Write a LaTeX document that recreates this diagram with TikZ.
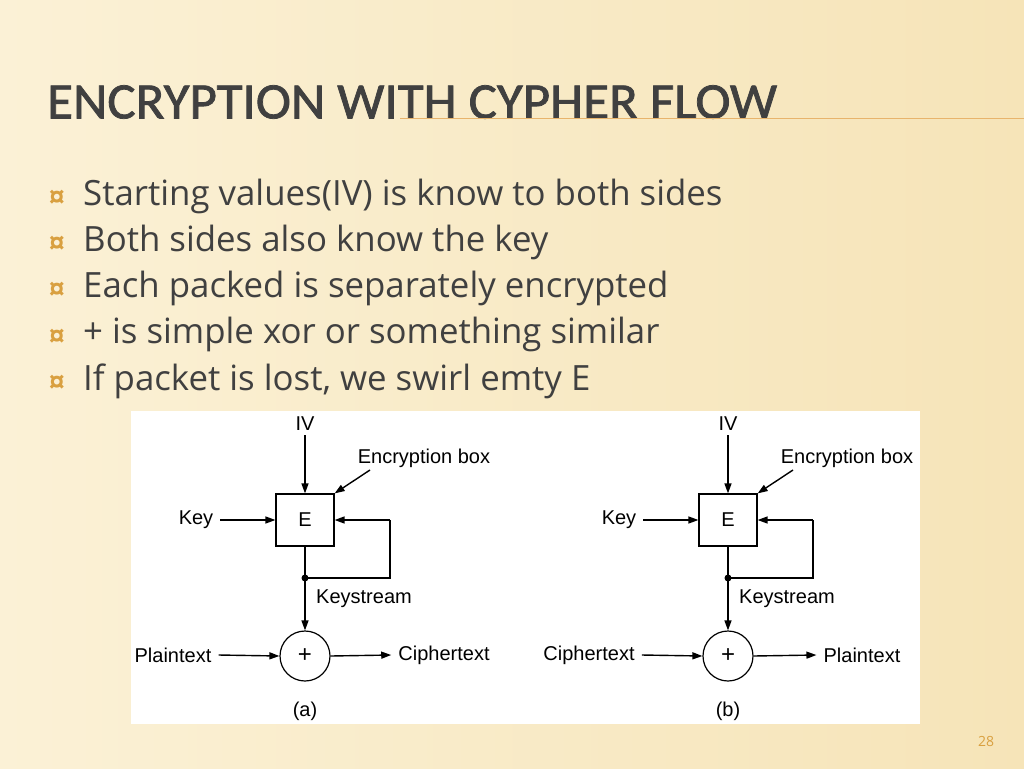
\documentclass[tikz,border=0pt]{standalone}
\usepackage{fontspec}
\setmainfont{Open Sans}
\newfontfamily\titlefont{Carlito}
\newfontfamily\arialf{Liberation Sans}
\usetikzlibrary{arrows.meta}
\definecolor{bgA}{HTML}{FBF1D6}
\definecolor{bgB}{HTML}{F6E4B8}
\definecolor{titlec}{HTML}{404040}
\definecolor{linec}{HTML}{E8B46C}
\definecolor{bulc}{HTML}{D9A040}
\begin{document}
\begin{tikzpicture}[x=1pt,y=-1pt,
  lbl/.style={font=\arialf\fontsize{20}{22}\selectfont,inner sep=0pt},
  ar/.style={-{Triangle[length=10pt,width=7pt]},line width=1.4pt},
  ln/.style={line width=1.4pt},
  bx/.style={draw,line width=1.2pt,minimum width=58pt,minimum height=52pt,inner sep=0pt,font=\arialf\fontsize{20}{22}\selectfont},
  xo/.style={draw,circle,line width=1.2pt,minimum size=50pt,inner sep=0pt,font=\arialf\fontsize{24}{26}\selectfont},
  bul/.style={anchor=west,font=\fontsize{34.8}{36}\selectfont,text=titlec,inner sep=0pt}]
\useasboundingbox (0,0) rectangle (1024,768);
\shade[left color=bgA,right color=bgB] (0,0) rectangle (1024,768);
\node[anchor=west,inner sep=0pt,text=titlec,font=\titlefont\fontsize{51}{56}\selectfont] (title) at (47,102) {\addfontfeatures{FakeBold=1.5,FakeStretch=1.04}ENCRYPTION WITH CYPHER FLOW};
\draw[linec,line width=1pt] (400,118) -- (1024,118);
\foreach \t [count=\i] in {Starting values(IV) is know to both sides,Both sides also know the key,Each packed is separately encrypted,+ is simple xor or something similar,If packet is lost{,} we swirl emty E}{
  \node[bul] (b\i) at (83,{196+46.3*(\i-1)}) {\t};
  \node[text=bulc,font=\arialf\fontsize{28}{28}\selectfont\bfseries,inner sep=0pt] (m\i) at (57,{198+46.3*(\i-1)}) {¤};
}
\fill[white] (131,411) rectangle (920,724);
\foreach \o/\nm/\lt/\rt/\lx/\rx/\cap in {0/a/Plaintext/Ciphertext/173/444/(a),423/b/Ciphertext/Plaintext/589/862/(b)}{
  \node[lbl] (iv\nm) at (305+\o,424) {IV};
  \node[bx] (E\nm) at (305+\o,520) {E};
  \node[lbl] (key\nm) at (196+\o,520) {Key};
  \node[lbl] (eb\nm) at (424+\o,458) {Encryption box};
  \node[xo] (x\nm) at (305+\o,656) {+};
  \node[lbl] (ks\nm) at (364+\o,599) {Keystream};
  \node[lbl] (lt\nm) at (\lx,655) {\lt};
  \node[lbl] (rt\nm) at (\rx,655) {\rt};
  \node[lbl] (cap\nm) at (305+\o,711) {\cap};
  \coordinate (d\nm) at (305+\o,578);
  \coordinate (r1\nm) at (390+\o,578);
  \coordinate (r2\nm) at (390+\o,520);
  \coordinate (eb0\nm) at (370+\o,470);
  \draw[ar] (iv\nm.south) ++(0,4) -- (E\nm.north);
  \draw[ar] (key\nm.east) ++(7,0) -- (E\nm.west);
  \draw[ar] (eb0\nm) -- (E\nm.north east);
  \draw[ar] (E\nm.south) -- (x\nm.north);
  \draw[ln] (d\nm) -- (r1\nm) -- (r2\nm);
  \draw[ar] (r2\nm) -- (E\nm.east);
  \fill (d\nm) circle (3.5pt);
  \draw[ar] (lt\nm.east) ++(7,0) -- (x\nm.west);
  \draw[ar] (x\nm.east) -- ([xshift=-7pt]rt\nm.west);
}
\node[text=bulc,font=\fontsize{14}{16}\selectfont] (pg) at (986,741) {28};
\end{tikzpicture}
\end{document}
